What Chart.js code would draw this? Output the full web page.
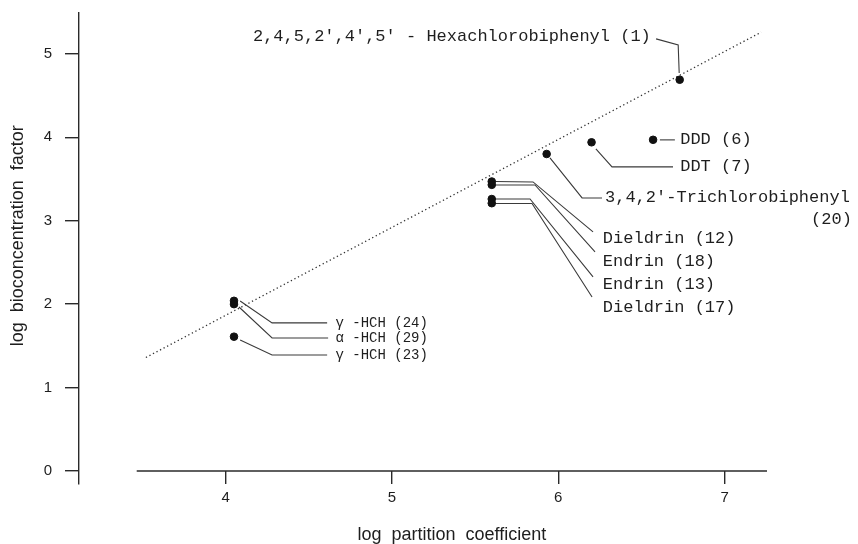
<!DOCTYPE html>
<html>
<head>
<meta charset="utf-8">
<title>Bioconcentration vs partition coefficient</title>
<script src="https://cdn.jsdelivr.net/npm/chart.js@4.4.0/dist/chart.umd.min.js"></script>
<style>
    html, body { margin: 0; padding: 0; background: #ffffff; }
    #wrap { width: 858px; height: 544px; position: relative; }
</style>
</head>
<body>
<div id="wrap"><canvas id="bcf-chart"></canvas></div>
<script>
// Measured compounds (log partition coefficient vs log bioconcentration factor)
const compounds = ['Hexachlorobiphenyl (1)', 'DDD (6)', 'DDT (7)', 'Trichlorobiphenyl (20)',
    'Dieldrin (12)', 'Endrin (18)', 'Endrin (13)', 'Dieldrin (17)',
    'γ-HCH (24)', 'α-HCH (29)', 'γ-HCH (23)'];
const logPartition = [6.73, 6.57, 6.20, 5.93, 5.60, 5.60, 5.60, 5.60, 4.05, 4.05, 4.05];
const logBcf = [4.69, 3.97, 3.94, 3.80, 3.47, 3.43, 3.26, 3.21, 2.04, 2.00, 1.61];

// Fitted regression line (dotted)
const fitX = [3.52, 7.22];
const fitY = [1.36, 5.26];

// Axis ticks and titles
const xTicks = [4, 5, 6, 7];
const yTicks = [0, 1, 2, 3, 4, 5];
const xTitle = 'log  partition  coefficient';
const yTitle = 'log  bioconcentration  factor';

// Point labels, anchored in data units
const labelText = [
    "2,4,5,2',4',5' - Hexachlorobiphenyl (1)", 'DDD (6)', 'DDT (7)',
    "3,4,2'-Trichlorobiphenyl", '(20)',
    'Dieldrin (12)', 'Endrin (18)', 'Endrin (13)', 'Dieldrin (17)',
    'γ -HCH (24)', 'α -HCH (29)', 'γ -HCH (23)'
];
const labelX = [4.164, 6.733, 6.733, 6.281, 7.52, 6.268, 6.268, 6.268, 6.268, 4.66, 4.66, 4.66];
const labelY = [5.204, 3.969, 3.645, 3.273, 3.010, 2.782, 2.506, 2.230, 1.954, 1.775, 1.595, 1.391];

// Leader lines from label to point (data units)
const leaderX = [
    [6.588, 6.721, 6.727],
    [6.611, 6.701],
    [6.226, 6.323, 6.690],
    [5.950, 6.143, 6.263],
    [5.62, 5.848, 6.209],
    [5.62, 5.860, 6.221],
    [5.62, 5.830, 6.209],
    [5.62, 5.842, 6.203],
    [4.087, 4.279, 4.610],
    [4.080, 4.279, 4.616],
    [4.087, 4.279, 4.610]
];
const leaderY = [
    [5.180, 5.108, 4.772],
    [3.969, 3.969],
    [3.861, 3.645, 3.645],
    [3.753, 3.273, 3.273],
    [3.471, 3.465, 2.866],
    [3.429, 3.429, 2.626],
    [3.261, 3.261, 2.326],
    [3.207, 3.207, 2.086],
    [2.038, 1.775, 1.775],
    [1.966, 1.595, 1.595],
    [1.571, 1.391, 1.391]
];

const inkColor = '#1e1e1e';
const axisColor = '#2a2a2a';
const leaderColor = '#3a3a3a';
const monoFont = "'Liberation Mono', 'DejaVu Sans Mono', monospace";
const sansFont = "'Liberation Sans', Arial, sans-serif";

// Build the datasets
const pointData = logPartition.map((x, i) => ({ x: x, y: logBcf[i] }));
const fitData = fitX.map((x, i) => ({ x: x, y: fitY[i] }));

const datasets = [{
    type: 'scatter',
    label: 'Compounds',
    data: pointData,
    backgroundColor: '#111111',
    borderColor: '#111111',
    pointRadius: 3.8,
    pointHoverRadius: 3.8,
    clip: false
}, {
    type: 'line',
    label: 'Regression',
    data: fitData,
    borderColor: '#333333',
    borderWidth: 1.3,
    borderDash: [1.3, 2.7],
    pointRadius: 0,
    fill: false,
    clip: false
}];

leaderX.forEach((xs, i) => {
    datasets.push({
        type: 'line',
        label: 'leader ' + i,
        data: xs.map((x, j) => ({ x: x, y: leaderY[i][j] })),
        borderColor: leaderColor,
        borderWidth: 1.1,
        pointRadius: 0,
        tension: 0,
        fill: false,
        clip: false
    });
});

// Draws the point labels, the axis titles and the detached x axis line
const labelPlugin = {
    id: 'pointLabels',
    afterDatasetsDraw(chart) {
        const ctx = chart.ctx;
        const xs = chart.scales.x;
        const ys = chart.scales.y;
        const axisLeft = xs.getPixelForValue(3.465);
        const axisRight = xs.getPixelForValue(7.255);
        const axisY = ys.getPixelForValue(0);
        ctx.save();

        // x axis line starts right of the y axis, as in the original figure
        ctx.strokeStyle = axisColor;
        ctx.lineWidth = 1.4;
        ctx.beginPath();
        ctx.moveTo(axisLeft, axisY);
        ctx.lineTo(axisRight, axisY);
        ctx.stroke();

        // axis titles
        ctx.fillStyle = inkColor;
        ctx.textAlign = 'center';
        ctx.textBaseline = 'middle';
        ctx.font = '18px ' + sansFont;
        ctx.fillText(xTitle, (axisLeft + axisRight) / 2, axisY + 64);
        ctx.save();
        ctx.translate(18, ys.getPixelForValue(2.82));
        ctx.rotate(-Math.PI / 2);
        ctx.fillText(yTitle, 0, 0);
        ctx.restore();

        // point labels
        ctx.textAlign = 'left';
        labelText.forEach((txt, i) => {
            const isHch = txt.indexOf('HCH') >= 0;
            ctx.font = (isHch ? '14px ' : '17px ') + monoFont;
            ctx.fillText(txt, xs.getPixelForValue(labelX[i]), ys.getPixelForValue(labelY[i]));
        });
        ctx.restore();
    }
};

const ctx = document.getElementById('bcf-chart');
new Chart(ctx, {
    data: { datasets: datasets },
    options: {
        responsive: true,
        maintainAspectRatio: false,
        animation: false,
        events: [],
        layout: {
            padding: { top: 13, right: 91, bottom: 60, left: 0 }
        },
        plugins: {
            legend: { display: false },
            tooltip: { enabled: false },
            title: { display: false }
        },
        scales: {
            x: {
                type: 'linear',
                min: 3.118,
                max: 7.255,
                position: { y: 0 },
                afterBuildTicks: scale => {
                    scale.ticks = xTicks.map(v => ({ value: v }));
                },
                afterFit: scale => {
                    scale.paddingLeft = 0;
                    scale.paddingRight = 0;
                },
                border: { display: false },
                grid: {
                    drawOnChartArea: false,
                    drawTicks: true,
                    tickLength: 13,
                    color: axisColor,
                    lineWidth: 1.4
                },
                ticks: {
                    color: inkColor,
                    padding: 5,
                    font: { family: sansFont, size: 15 }
                },
                title: { display: false }
            },
            y: {
                type: 'linear',
                min: -0.156,
                max: 5.49,
                position: 'left',
                afterBuildTicks: scale => {
                    scale.ticks = yTicks.map(v => ({ value: v }));
                },
                afterFit: scale => {
                    scale.width = 79;
                    scale.paddingTop = 0;
                    scale.paddingBottom = 0;
                },
                border: { display: true, color: axisColor, width: 1.4 },
                grid: {
                    drawOnChartArea: false,
                    drawTicks: true,
                    tickLength: 14,
                    color: axisColor,
                    lineWidth: 1.4
                },
                ticks: {
                    color: inkColor,
                    padding: 13,
                    font: { family: sansFont, size: 15 }
                },
                title: { display: false }
            }
        }
    },
    plugins: [labelPlugin]
});
</script>
</body>
</html>
